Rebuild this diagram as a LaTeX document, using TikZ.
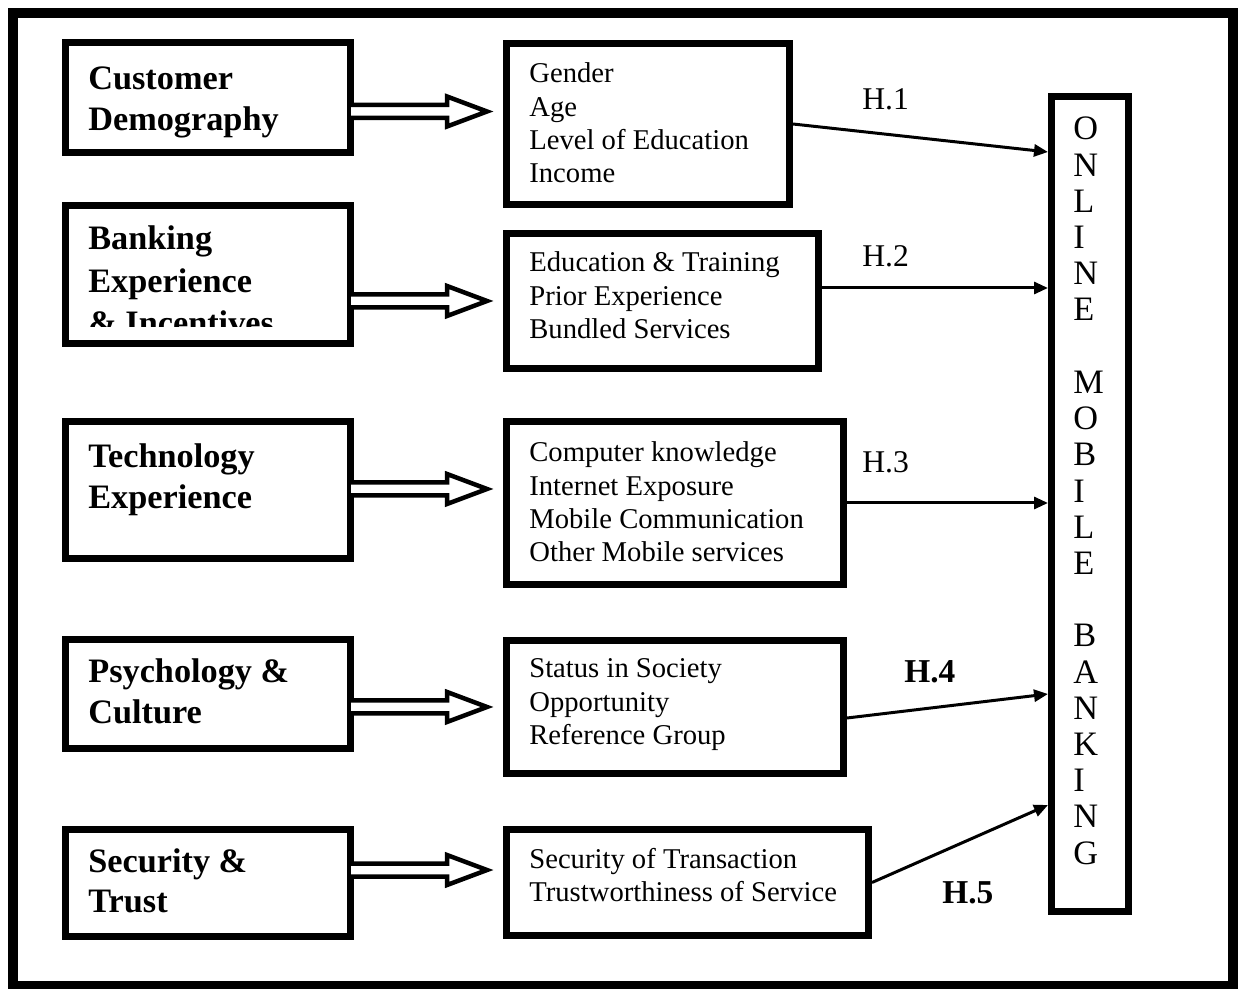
\documentclass[tikz,border=0pt]{standalone}
\usepackage{fontspec}
\setmainfont{Liberation Serif}
\usetikzlibrary{arrows.meta,calc}
\newcommand\stk[1]{\begin{tabular}[t]{@{}l@{}}#1\end{tabular}}
\tikzset{
 box/.style={draw, line width=1.4mm, anchor=north west, inner sep=0pt},
 lefttext/.style={anchor=base west, inner sep=0pt, font=\fontsize{19.5pt}{23pt}\selectfont\bfseries},
 midtext/.style={anchor=base west, inner sep=0pt, font=\fontsize{16.3pt}{18.95pt}\selectfont},
 hlab/.style={anchor=base west, inner sep=0pt, font=\fontsize{18pt}{20pt}\selectfont},
 hlabb/.style={anchor=base west, inner sep=0pt, font=\fontsize{19pt}{21pt}\selectfont\bfseries},
 vtext/.style={anchor=base west, inner sep=0pt, font=\fontsize{19.5pt}{20.6pt}\selectfont},
 dblarrow/.style={draw, line width=0.9mm, line join=miter, fill=white},
 harrow/.style={line width=0.6mm, -{Triangle[length=2.8mm,width=2.4mm]}},
}
\begin{document}
\begin{tikzpicture}[x=0.2mm, y=-0.2mm]
\useasboundingbox (0,0) rectangle (1238,989);
% outer frame
\draw[line width=2mm] (13,13.5) rectangle (1233,986);

% left boxes
\node[box, minimum width=57mm, minimum height=22mm] (L1) at (62,39) {};
\node[box, minimum width=57mm, minimum height=27.6mm] (L2) at (62,202) {};
\node[box, minimum width=57mm, minimum height=27.4mm] (L3) at (62,418) {};
\node[box, minimum width=57mm, minimum height=21.8mm] (L4) at (62,636) {};
\node[box, minimum width=57mm, minimum height=21.4mm] (L5) at (62,826) {};

\node[lefttext] (t1) at (88,90) {\stk{Customer\\Demography}};
\begin{scope}
\clip (62,202) rectangle (354,327);
\node[lefttext, font=\fontsize{19.5pt}{24pt}\selectfont\bfseries] (t2) at (88,250) {\stk{Banking\\Experience\\\& Incentives}};
\end{scope}
\node[lefttext] (t3) at (88,468) {\stk{Technology\\Experience}};
\node[lefttext] (t4) at (88,683) {\stk{Psychology \&\\Culture}};
\node[lefttext] (t5) at (88,872) {\stk{Security \&\\Trust}};

% middle boxes
\node[box, minimum width=56.6mm, minimum height=32.2mm] (M1) at (503,40) {};
\node[box, minimum width=62.4mm, minimum height=27mm] (M2) at (503,230) {};
\node[box, minimum width=67.4mm, minimum height=32.6mm] (M3) at (503,418) {};
\node[box, minimum width=67.4mm, minimum height=26.6mm] (M4) at (503,637) {};
\node[box, minimum width=72.4mm, minimum height=21.2mm] (M5) at (503,826) {};

\node[midtext] (m1) at (529,83) {\stk{Gender\\Age\\Level of Education\\Income}};
\node[midtext] (m2) at (529,272) {\stk{Education \& Training\\Prior Experience\\Bundled Services}};
\node[midtext] (m3) at (529,462) {\stk{Computer knowledge\\Internet Exposure\\Mobile Communication\\Other Mobile services}};
\node[midtext] (m4) at (529,678) {\stk{Status in Society\\Opportunity\\Reference Group}};
\node[midtext] (m5) at (529,868) {\stk{Security of Transaction\\Trustworthiness of Service}};

% right box
\node[box, minimum width=15.4mm, minimum height=163mm] (R) at (1048,93) {};
\node[vtext] (rt) at (1073,140) {\stk{O\\N\\L\\I\\N\\E\\ \\M\\O\\B\\I\\L\\E\\ \\B\\A\\N\\K\\I\\N\\G}};

% double arrows
\coordinate (a1) at (L1.east |- 0,111.5);
\coordinate (a2) at (L2.east |- 0,301);
\coordinate (a3) at (L3.east |- 0,489);
\coordinate (a4) at (L4.east |- 0,707);
\coordinate (a5) at (L5.east |- 0,870);
\foreach \a in {a1,a2,a3,a4,a5}{
  \draw[dblarrow] (\a) ++(-3,-6.5) -- ++(96,0) -- ++(0,-8.5) -- ++(40,15) -- ++(-40,15) -- ++(0,-8.5) -- ++(-96,0);
}

% hypothesis arrows
\draw[harrow] (M1.east) -- (R.west |- 0,152);
\draw[harrow] (M2.east |- 0,288) -- (R.west |- 0,288);
\draw[harrow] (M3.east) -- (R.west |- M3.east);
\draw[harrow] (M4.east |- 0,718) -- (R.west |- 0,694);
\draw[harrow] (M5.east) -- (R.west |- 0,805);

\node[hlab] (h1) at (862,110) {H.1};
\node[hlab] (h2) at (862,267) {H.2};
\node[hlab] (h3) at (862,473) {H.3};
\node[hlabb] (h4) at (904,683) {H.4};
\node[hlabb] (h5) at (942,903) {H.5};
\end{tikzpicture}
\end{document}
